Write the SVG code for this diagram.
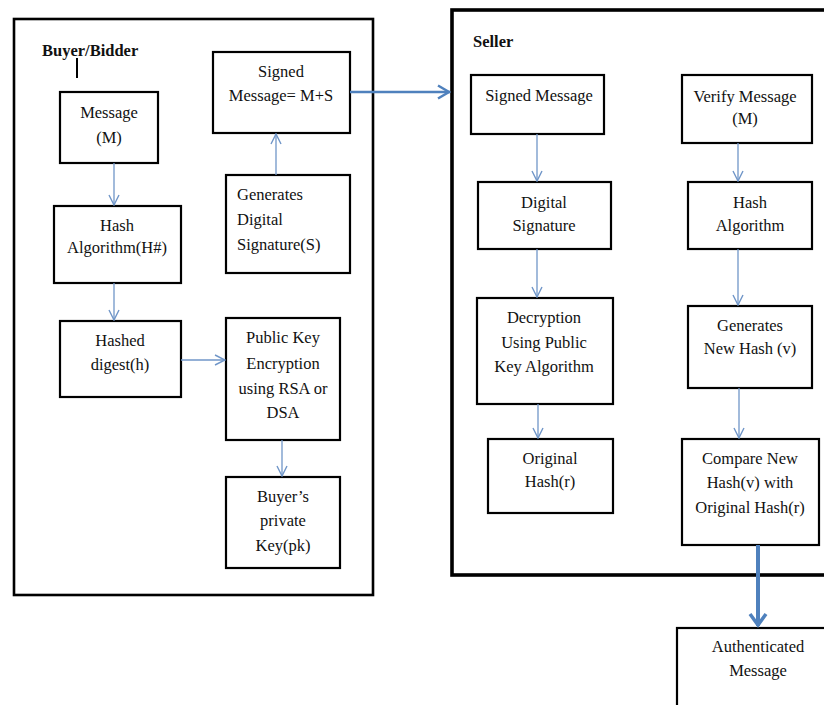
<svg xmlns="http://www.w3.org/2000/svg" width="824" height="705" viewBox="0 0 824 705">
<style>
.box{fill:#fff;stroke:#000;stroke-width:2.2}
.frame{fill:none;stroke:#000}
text{font-family:"Liberation Serif","Times New Roman",serif;font-size:16.5px;fill:#111}
.c{text-anchor:middle}
.lbl{font-weight:bold;font-size:16.5px}
.thin{stroke:#7096c8;stroke-width:1.3;fill:none}
.thick{stroke:#4f81bd;fill:none}
</style>
<defs>
<marker id="ah" viewBox="0 0 12 12" refX="11" refY="6" markerWidth="12" markerHeight="12" markerUnits="userSpaceOnUse" orient="auto">
<path d="M1,1 L11,6 L1,11" fill="none" stroke="#7096c8" stroke-width="1.4"/>
</marker>
<marker id="ah2" viewBox="0 0 14 16" refX="13" refY="8" markerWidth="14" markerHeight="16" markerUnits="userSpaceOnUse" orient="auto">
<path d="M1,1.5 L12,8 L1,14.5" fill="none" stroke="#4f81bd" stroke-width="2.5"/>
</marker>
<marker id="ah3" viewBox="0 0 16 20" refX="14" refY="10" markerWidth="16" markerHeight="20" markerUnits="userSpaceOnUse" orient="auto">
<path d="M2,2 L13,10 L2,18" fill="none" stroke="#4f81bd" stroke-width="3.5"/>
</marker>
</defs>

<g id="buyer-frame">
<rect class="frame" x="14" y="19" width="359" height="576" stroke-width="2.6"/>
<text class="lbl" x="42" y="56">Buyer/Bidder</text>
<line x1="77" y1="58" x2="77" y2="78" stroke="#000" stroke-width="2"/>
</g>

<g id="seller-frame">
<rect class="frame" x="452" y="10" width="400" height="565" stroke-width="3.6"/>
<text class="lbl" x="473" y="47">Seller</text>
</g>

<g id="message">
<rect class="box" x="60" y="92" width="98" height="71"/>
<text class="c" x="109" y="118">Message</text>
<text class="c" x="109" y="143">(M)</text>
</g>

<g id="hash-algorithm-buyer">
<rect class="box" x="54" y="206" width="127" height="77"/>
<text class="c" x="117" y="231">Hash</text>
<text class="c" x="117" y="253">Algorithm(H#)</text>
</g>

<g id="hashed-digest">
<rect class="box" x="60" y="321" width="121" height="76"/>
<text class="c" x="120" y="346">Hashed</text>
<text class="c" x="120" y="370">digest(h)</text>
</g>

<g id="signed-message-buyer">
<rect class="box" x="213" y="52" width="137" height="81"/>
<text class="c" x="281" y="77">Signed</text>
<text class="c" x="281" y="101">Message= M+S</text>
</g>

<g id="generates-signature">
<rect class="box" x="226" y="175" width="124" height="98"/>
<text x="237" y="200">Generates</text>
<text x="237" y="225">Digital</text>
<text x="237" y="250">Signature(S)</text>
</g>

<g id="public-key-encryption">
<rect class="box" x="226" y="318" width="114" height="122"/>
<text class="c" x="283" y="343">Public Key</text>
<text class="c" x="283" y="369">Encryption</text>
<text class="c" x="283" y="394">using RSA or</text>
<text class="c" x="283" y="418">DSA</text>
</g>

<g id="buyers-private-key">
<rect class="box" x="226" y="477" width="114" height="91"/>
<text class="c" x="283" y="502">Buyer’s</text>
<text class="c" x="283" y="526">private</text>
<text class="c" x="283" y="551">Key(pk)</text>
</g>

<g id="signed-message-seller">
<rect class="box" x="471" y="75" width="133" height="59"/>
<text class="c" x="539" y="101">Signed Message</text>
</g>

<g id="digital-signature">
<rect class="box" x="478" y="182" width="133" height="67"/>
<text class="c" x="544" y="208">Digital</text>
<text class="c" x="544" y="231">Signature</text>
</g>

<g id="decryption">
<rect class="box" x="477" y="298" width="136" height="106"/>
<text class="c" x="544" y="323">Decryption</text>
<text class="c" x="544" y="348">Using Public</text>
<text class="c" x="544" y="372">Key Algorithm</text>
</g>

<g id="original-hash">
<rect class="box" x="488" y="439" width="125" height="74"/>
<text class="c" x="550" y="464">Original</text>
<text class="c" x="550" y="487">Hash(r)</text>
</g>

<g id="verify-message">
<rect class="box" x="682" y="75" width="130" height="68"/>
<text class="c" x="745" y="102">Verify Message</text>
<text class="c" x="745" y="124">(M)</text>
</g>

<g id="hash-algorithm-seller">
<rect class="box" x="688" y="182" width="124" height="67"/>
<text class="c" x="750" y="208">Hash</text>
<text class="c" x="750" y="231">Algorithm</text>
</g>

<g id="generates-new-hash">
<rect class="box" x="688" y="306" width="124" height="82"/>
<text class="c" x="750" y="331">Generates</text>
<text class="c" x="750" y="354">New Hash (v)</text>
</g>

<g id="compare">
<rect class="box" x="682" y="439" width="137" height="106"/>
<text class="c" x="750" y="464">Compare New</text>
<text class="c" x="750" y="488">Hash(v) with</text>
<text class="c" x="750" y="513">Original Hash(r)</text>
</g>

<g id="authenticated-message">
<rect class="box" x="677" y="628" width="170" height="100"/>
<text class="c" x="758" y="652">Authenticated</text>
<text class="c" x="758" y="676">Message</text>
</g>

<g id="connectors">
<line class="thin" x1="114" y1="163" x2="114" y2="205" marker-end="url(#ah)"/>
<line class="thin" x1="114" y1="283" x2="114" y2="320" marker-end="url(#ah)"/>
<line class="thin" x1="181" y1="360" x2="225" y2="360" marker-end="url(#ah)"/>
<line class="thin" x1="282" y1="440" x2="282" y2="476" marker-end="url(#ah)"/>
<line class="thin" x1="276" y1="175" x2="276" y2="134" marker-end="url(#ah)"/>
<line class="thick" stroke-width="2.6" x1="350" y1="92" x2="450" y2="92" marker-end="url(#ah2)"/>
<line class="thin" x1="537" y1="134" x2="537" y2="181" marker-end="url(#ah)"/>
<line class="thin" x1="537" y1="249" x2="537" y2="297" marker-end="url(#ah)"/>
<line class="thin" x1="538" y1="404" x2="538" y2="438" marker-end="url(#ah)"/>
<line class="thin" x1="738" y1="143" x2="738" y2="181" marker-end="url(#ah)"/>
<line class="thin" x1="738" y1="249" x2="738" y2="305" marker-end="url(#ah)"/>
<line class="thin" x1="739" y1="388" x2="739" y2="438" marker-end="url(#ah)"/>
<line class="thick" stroke-width="4" x1="758" y1="545" x2="758" y2="626" marker-end="url(#ah3)"/>
</g>
</svg>
